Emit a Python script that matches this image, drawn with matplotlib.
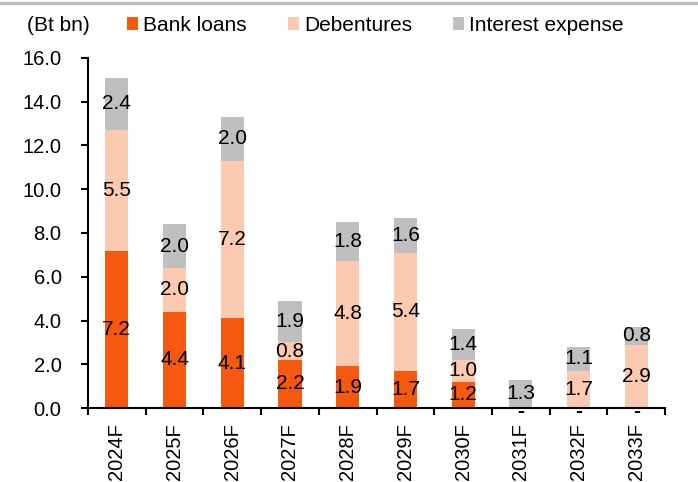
import matplotlib
matplotlib.use("Agg")
import matplotlib.pyplot as plt
import numpy as np
from matplotlib.lines import Line2D

plt.rcParams['font.family'] = ['Liberation Sans', 'DejaVu Sans']

categories = ["2024F", "2025F", "2026F", "2027F", "2028F", "2029F", "2030F", "2031F", "2032F", "2033F"]
bank_loans = [7.2, 4.4, 4.1, 2.2, 1.9, 1.7, 1.2, 0.0, 0.0, 0.0]
debentures = [5.5, 2.0, 7.2, 0.8, 4.8, 5.4, 1.0, 0.0, 1.7, 2.9]
interest = [2.4, 2.0, 2.0, 1.9, 1.8, 1.6, 1.4, 1.3, 1.1, 0.8]
series_names = ["Bank loans", "Debentures", "Interest expense"]
colors = ["#F5590F", "#FCCAB0", "#BFBFBF"]
yticks = [0, 2, 4, 6, 8, 10, 12, 14, 16]

fig = plt.figure(figsize=(6.98, 4.82), dpi=100)
ax = fig.add_axes([0.126, 0.1535, 0.827, 0.7262])

x = np.arange(len(categories))
bottom = np.zeros(len(categories))
handles = []
for vals, name, col in zip([bank_loans, debentures, interest], series_names, colors):
    vals = np.array(vals)
    bars = ax.bar(x, vals, width=0.4, bottom=bottom, color=col, label=name)
    handles.append(bars)
    for xi, v, b in zip(x, vals, bottom):
        if v == 0:
            ax.text(xi, b - 0.15, "-", ha="center", va="center", fontsize=15,
                    color="black", fontweight="bold", zorder=5)
        else:
            ax.text(xi, b + v / 2, f"{v:.1f}", ha="center", va="center", fontsize=15,
                    color="black", zorder=5)
    bottom = bottom + vals

ax.set_xlim(-0.5, len(categories) - 0.5)
ax.set_ylim(0, 16)
ax.set_yticks(yticks)
ax.set_yticklabels([f"{t:.1f}" for t in yticks], fontsize=14.5)
ax.set_xticks(x)
ax.set_xticklabels(categories, rotation=90, fontsize=14.5)
ax.tick_params(axis="x", which="major", length=0, pad=11)
ax.set_xticks(np.arange(len(categories) + 1) - 0.5, minor=True)
ax.tick_params(axis="x", which="minor", length=5, width=1.5, direction="out")
ax.tick_params(axis="y", length=5, width=1.5, direction="out", pad=14)
for s in ["top", "right"]:
    ax.spines[s].set_visible(False)
for s in ["left", "bottom"]:
    ax.spines[s].set_linewidth(1.5)

fig.text(27 / 698, 1 - 25.5 / 482, "(Bt bn)", fontsize=15, ha="left", va="center")
fig.legend(handles=handles, labels=series_names, ncol=3, loc="center left",
           bbox_to_anchor=(127 / 698, 1 - 25.5 / 482), frameon=False, fontsize=15,
           handlelength=0.53, handleheight=0.53, handletextpad=0.24, columnspacing=1.97,
           borderpad=0, borderaxespad=0)

fig.add_artist(Line2D([0, 1], [0.994, 0.994], transform=fig.transFigure, color="#C0C0C0", linewidth=2.5))

fig.savefig("out.png", dpi=100)
